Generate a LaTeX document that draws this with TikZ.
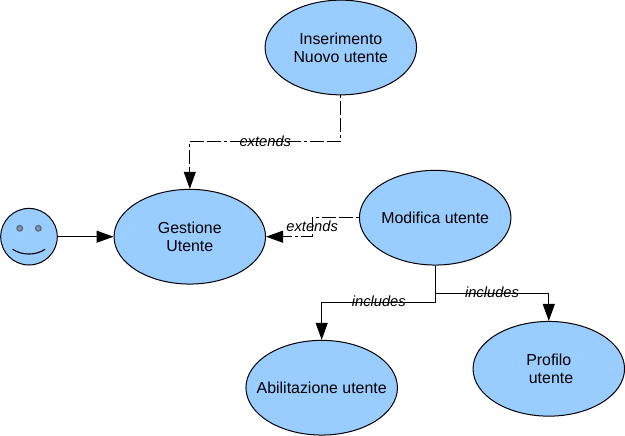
\documentclass[tikz,border=0pt]{standalone}
\usepackage{fontspec}
\setmainfont{Liberation Sans}
\usetikzlibrary{arrows.meta,shapes.geometric}
\definecolor{uc}{HTML}{99CCFF}
\tikzset{
  usecase/.style={draw=black,fill=uc,ellipse,line width=1pt,inner sep=0pt,align=center,minimum width=151.5pt,minimum height=94.7pt,font=\fontsize{15.9}{18}\selectfont},
  lnk/.style={draw=black,line width=1pt,-{Triangle[length=17pt,width=12pt]}},
  dashlnk/.style={lnk,dash pattern=on 3pt off 3pt on 14pt off 3pt on 14pt off 3pt},
  lbl/.style={inner sep=0pt,anchor=base,font=\fontsize{14.7}{18}\itshape\selectfont}
}
\begin{document}
\begin{tikzpicture}[x=1pt,y=-1pt]
\useasboundingbox (0,0) rectangle (625,436);
\node[usecase] (ins) at (340.8,47.5) {Inserimento\\Nuovo utente};
\node[usecase] (ges) at (189.8,236.7) {Gestione\\Utente};
\node[usecase] (mod) at (435.2,217.7) {\makebox[0pt]{Modifica utente}};
\node[usecase] (abi) at (321.7,387.7) {\makebox[0pt]{Abilitazione utente}};
\node[usecase] (pro) at (548.8,368.8) {Profilo\\ \ utente};
\node[circle,draw=black,fill=uc,line width=1pt,minimum size=56.6pt,inner sep=0pt] (act) at (29,236.7) {};
\fill[uc!75!black,draw=black!60,line width=1.2pt] (19.7,228.3) circle (2.8pt) (38.3,228.3) circle (2.8pt);
\draw[black,line width=1.1pt] (12.7,249.3) .. controls (22,255.6) and (36,255.6) .. (45,249.3);
\coordinate (b1) at (340.8,142);
\coordinate (b2) at (312.3,217.7);
\coordinate (b3) at (312.3,236.7);
\coordinate (b4) at (435.2,293.3);
\coordinate (b5) at (435.2,302.3);
\draw[lnk] (act) -- (ges);
\draw[dashlnk] (ins.south) -- (b1) -| (ges.north);
\draw[dashlnk] (mod.west) -- (b2) -- (b3) -- (ges.east);
\draw[lnk] (mod.south) -- (b5) -| (abi.north);
\draw[lnk] (b4) -| (pro.north);
\node[lbl] (l1) at (265.3,146.7) {extends};
\node[lbl] (l2) at (312.2,231.7) {extends};
\node[lbl] (l3) at (378.8,306.7) {includes};
\node[lbl] (l4) at (492,297.7) {includes};
\end{tikzpicture}
\end{document}
